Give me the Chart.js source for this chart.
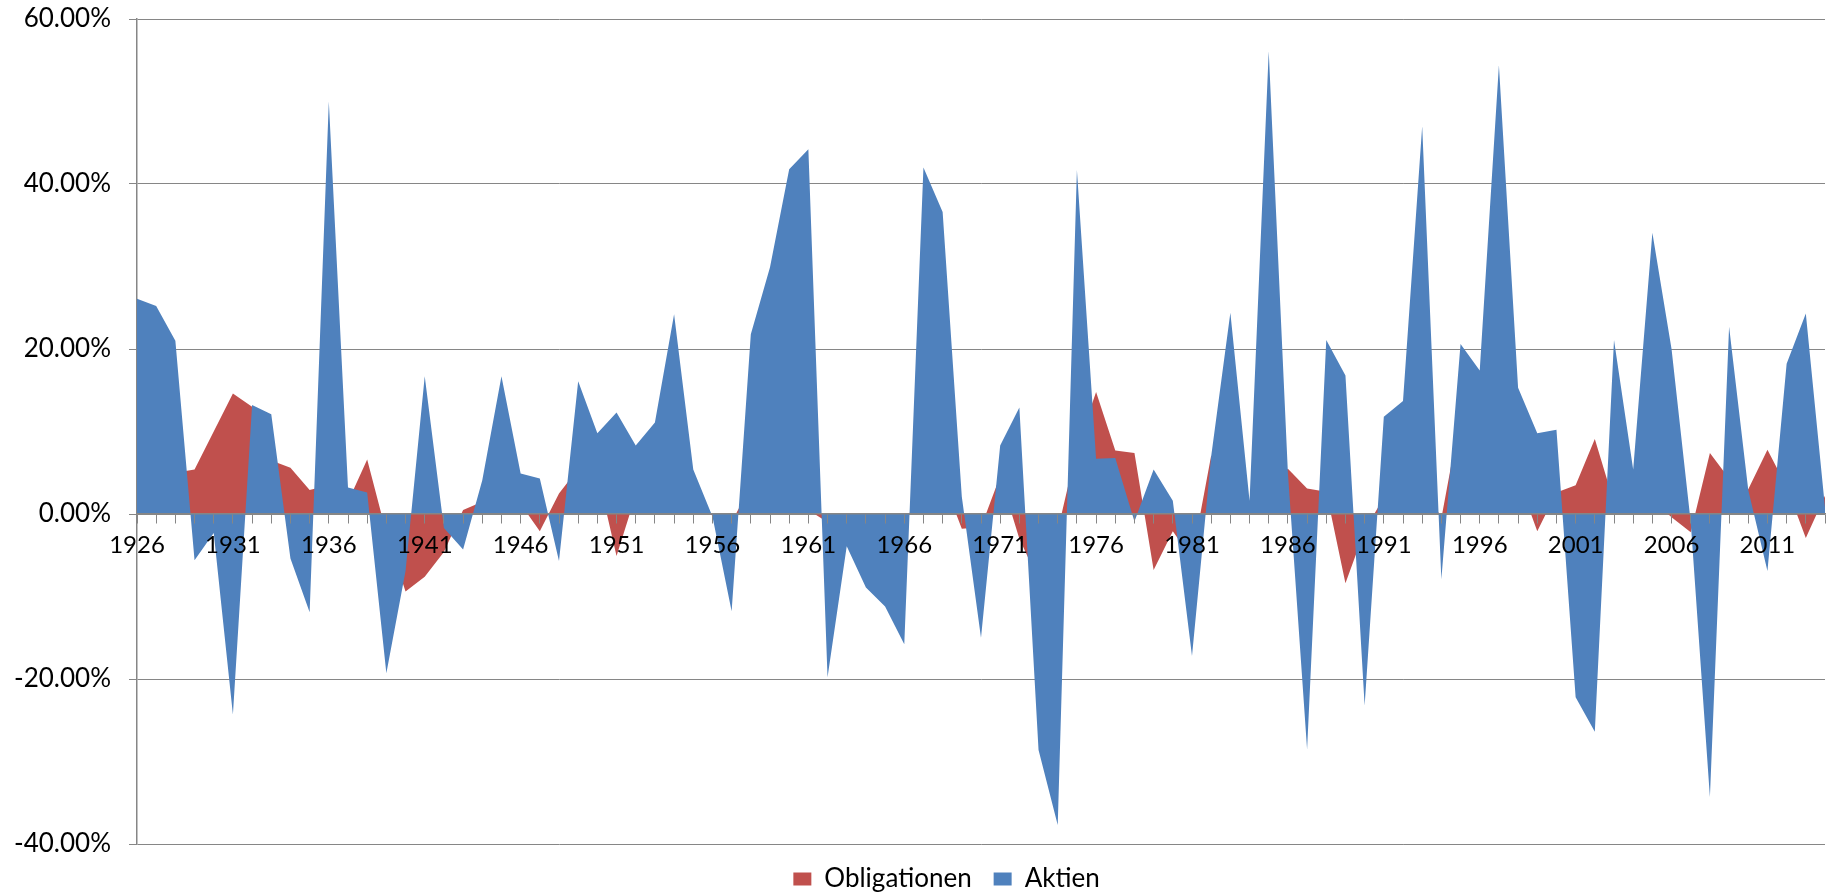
<!DOCTYPE html>
<html>
<head>
<meta charset="utf-8">
<script src="https://cdn.jsdelivr.net/npm/chart.js@4"></script>
<style>
    html, body { margin: 0; padding: 0; background: #ffffff; }
    #wrap { width: 1833px; height: 892px; }
</style>
</head>
<body>
<div id="wrap"><canvas id="chart"></canvas></div>
<script>
// Jahre (Kategorien)
const years = [
    1926, 1927, 1928, 1929, 1930, 1931, 1932, 1933, 1934, 1935,
    1936, 1937, 1938, 1939, 1940, 1941, 1942, 1943, 1944, 1945,
    1946, 1947, 1948, 1949, 1950, 1951, 1952, 1953, 1954, 1955,
    1956, 1957, 1958, 1959, 1960, 1961, 1962, 1963, 1964, 1965,
    1966, 1967, 1968, 1969, 1970, 1971, 1972, 1973, 1974, 1975,
    1976, 1977, 1978, 1979, 1980, 1981, 1982, 1983, 1984, 1985,
    1986, 1987, 1988, 1989, 1990, 1991, 1992, 1993, 1994, 1995,
    1996, 1997, 1998, 1999, 2000, 2001, 2002, 2003, 2004, 2005,
    2006, 2007, 2008, 2009, 2010, 2011, 2012, 2013, 2014
];

// only every fifth year carries a label
const labelledYears = [1926, 1931, 1936, 1941, 1946, 1951, 1956, 1961, 1966,
    1971, 1976, 1981, 1986, 1991, 1996, 2001, 2006, 2011];

// Jahresrendite Aktien in %
const aktien = [
    26.1, 25.2, 21.0, -5.6, -2.3, -24.3, 13.2, 12.1, -5.4, -11.9,
    50.0, 3.2, 2.6, -19.3, -6.9, 16.7, -1.7, -4.3, 4.1, 16.7,
    4.9, 4.3, -5.7, 16.1, 9.8, 12.3, 8.3, 11.1, 24.2, 5.4,
    -0.3, -11.8, 21.8, 29.9, 41.8, 44.2, -19.8, -3.9, -8.9, -11.2,
    -15.8, 42.0, 36.6, 2.1, -15.0, 8.3, 12.9, -28.6, -37.7, 41.7,
    6.7, 6.8, -0.9, 5.4, 1.6, -17.2, 7.0, 24.4, 1.6, 56.1,
    5.0, -28.5, 21.1, 16.8, -23.2, 11.8, 13.7, 47.0, -7.9, 20.6,
    17.4, 54.4, 15.3, 9.8, 10.2, -22.2, -26.4, 21.1, 5.4, 34.1,
    20.0, -1.0, -34.3, 22.7, 2.9, -6.9, 18.2, 24.3, 0.8
];

// Jahresrendite Obligationen in %
const obligationen = [
    5.5, 5.6, 5.0, 5.4, 10.0, 14.6, 13.0, 6.5, 5.6, 2.9,
    3.5, 1.5, 6.6, -2.3, -9.4, -7.6, -4.6, 0.5, 1.5, 3.0,
    1.2, -2.1, 2.5, 5.5, 5.0, -5.1, 2.3, 3.5, 3.0, 2.0,
    -0.2, -1.0, 3.5, 3.0, 2.5, 0.5, -1.0, -1.0, -1.5, -1.0,
    -1.0, 3.0, 4.3, -1.8, -1.6, 4.6, -3.0, -8.0, -2.0, 8.0,
    14.8, 7.7, 7.4, -6.8, -2.1, -5.4, 7.1, 3.5, 1.0, 4.0,
    5.5, 3.1, 2.7, -8.4, -2.0, 2.0, 3.0, 4.0, -0.5, 12.0,
    5.0, 5.5, 4.3, -2.1, 2.6, 3.5, 9.1, 1.4, 3.0, 1.7,
    -0.4, -2.2, 7.4, 4.3, 3.0, 7.8, 3.3, -2.9, 2.2
];

const yTicks = [-40, -20, 0, 20, 40, 60];

const gridColor = '#868686';
const fontFamily = 'Lato, "Open Sans", sans-serif';

// the legend sits a little right of the canvas centre, as in the original
const legendShift = {
    id: 'legendShift',
    afterLayout(chart) {
        chart.legend.left += 30;
        chart.legend.right += 30;
    }
};

const ctx = document.getElementById('chart');

new Chart(ctx, {
    type: 'line',
    data: {
        labels: years,
        datasets: [{
            // index 0 is painted last, so the stocks sit on top
            label: 'Aktien',
            data: aktien,
            backgroundColor: '#4F81BD',
            borderColor: '#4F81BD',
            borderWidth: 0,
            pointRadius: 0,
            tension: 0,
            fill: 'origin'
        }, {
            label: 'Obligationen',
            data: obligationen,
            backgroundColor: '#C0504D',
            borderColor: '#C0504D',
            borderWidth: 0,
            pointRadius: 0,
            tension: 0,
            fill: 'origin'
        }]
    },
    plugins: [legendShift],
    options: {
        responsive: true,
        maintainAspectRatio: false,
        animation: false,
        layout: {
            padding: { left: 0, right: 0, top: 19, bottom: 0 }
        },
        plugins: {
            tooltip: { enabled: false },
            legend: {
                position: 'bottom',
                reverse: true,
                maxHeight: 48,
                labels: {
                    boxWidth: 18,
                    boxHeight: 13,
                    padding: 22,
                    color: '#000000',
                    font: { family: fontFamily, size: 26 }
                }
            }
        },
        scales: {
            x: {
                type: 'category',
                position: { y: 0 },
                offset: false,
                grid: {
                    display: true,
                    drawOnChartArea: false,
                    drawTicks: true,
                    tickLength: 9,
                    color: gridColor,
                    z: 1
                },
                border: {
                    display: true,
                    color: gridColor,
                    width: 1.5,
                    z: 1
                },
                ticks: {
                    autoSkip: false,
                    maxRotation: 0,
                    minRotation: 0,
                    padding: 8,
                    z: 1,
                    color: '#000000',
                    font: { family: fontFamily, size: 24 },
                    callback: function (value, index) {
                        const year = years[index];
                        return labelledYears.includes(year) ? String(year) : '';
                    }
                }
            },
            y: {
                min: yTicks[0],
                max: yTicks[yTicks.length - 1],
                afterFit: function (scale) {
                    scale.width = 137;
                    // keep the plot top at the layout padding
                    scale.paddingTop = 0;
                    scale.paddingBottom = 0;
                },
                afterBuildTicks: function (scale) {
                    scale.ticks = yTicks.map(v => ({ value: v }));
                },
                grid: {
                    color: gridColor,
                    lineWidth: 1,
                    tickLength: 8
                },
                border: {
                    display: true,
                    color: gridColor,
                    width: 1.5
                },
                ticks: {
                    padding: 18,
                    color: '#000000',
                    font: { family: fontFamily, size: 26 },
                    callback: function (value) {
                        return value.toFixed(2) + '%';
                    }
                }
            }
        }
    }
});
</script>
</body>
</html>
